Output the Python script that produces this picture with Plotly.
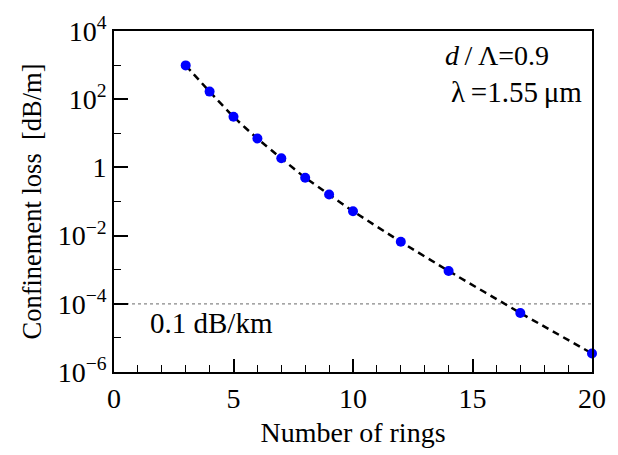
import plotly.graph_objects as go

rings = [3, 4, 5, 6, 7, 8, 9, 10, 12, 14, 17, 20]
loss = [980, 167, 30.6, 7.0, 1.85, 0.50, 0.16, 0.052, 0.0066, 9.2e-4, 5.4e-5, 3.5e-6]
threshold = 1e-4
thr_x = [0, 20]

y_major = [1e4, 1e2, 1, 1e-2, 1e-4, 1e-6]
y_major_text = ["10<sup>4</sup>", "10<sup>2</sup>", "1", "10<sup>−2</sup>", "10<sup>−4</sup>", "10<sup>−6</sup>"]
y_minor = [1e3, 1e1, 1e-1, 1e-3, 1e-5]

FONT = "Liberation Serif"

fig = go.Figure()
fig.add_trace(go.Scatter(x=thr_x, y=[threshold, threshold], mode="lines",
                         line=dict(color="#888888", width=1.2, dash="dot"),
                         showlegend=False, hoverinfo="skip"))
fig.add_trace(go.Scatter(x=rings, y=loss, mode="lines",
                         line=dict(color="black", width=2.5, dash="7px,5px", shape="spline", smoothing=0.6),
                         showlegend=False))
fig.add_trace(go.Scatter(x=rings, y=loss, mode="markers",
                         marker=dict(color="#0000ff", size=10),
                         showlegend=False, cliponaxis=False))

fig.update_layout(
    width=618, height=455,
    margin=dict(l=114, r=13, t=23, b=80),
    paper_bgcolor="white", plot_bgcolor="white",
    font=dict(family=FONT, size=24, color="black"),
    xaxis=dict(range=[0, 20], tickvals=[0, 5, 10, 15, 20], ticks="inside", ticklen=13,
               tickwidth=1.5, tickcolor="black",
               minor=dict(dtick=1, ticks="inside", ticklen=7, tickwidth=1.2, tickcolor="black"),
               showline=True, linecolor="black", linewidth=1.8, mirror=True,
               showgrid=False, zeroline=False,
               title=dict(text="Number of rings", standoff=10, font=dict(family=FONT, size=28, color="black")),
               tickfont=dict(family=FONT, size=28, color="black")),
    yaxis=dict(type="log", range=[-6, 4], tickvals=y_major, ticktext=y_major_text,
               ticks="inside", ticklen=14, tickwidth=1.5, tickcolor="black",
               minor=dict(tickvals=y_minor, ticks="inside", ticklen=7, tickwidth=1.2, tickcolor="black"),
               showline=True, linecolor="black", linewidth=1.8, mirror=True,
               showgrid=False, zeroline=False,
               title=dict(text="Confinement loss  [dB/m]", standoff=8, font=dict(family=FONT, size=26.5, color="black")),
               tickfont=dict(family=FONT, size=28, color="black")),
)

fig.add_annotation(x=0.688, y=0.928, xref="paper", yref="paper", xanchor="left", yanchor="middle",
                   text="<i>d</i>\u2009/\u2009Λ=0.9", showarrow=False, font=dict(family=FONT, size=28, color="black"))
fig.add_annotation(x=0.70, y=0.82, xref="paper", yref="paper", xanchor="left", yanchor="middle",
                   text="λ\u2009=1.55\u2009μm", showarrow=False, font=dict(family=FONT, size=29, color="black"))
fig.add_annotation(x=0.072, y=0.143, xref="paper", yref="paper", xanchor="left", yanchor="middle",
                   text="0.1 dB/km", showarrow=False, font=dict(family=FONT, size=29, color="black"))

fig.write_html("out.html")
